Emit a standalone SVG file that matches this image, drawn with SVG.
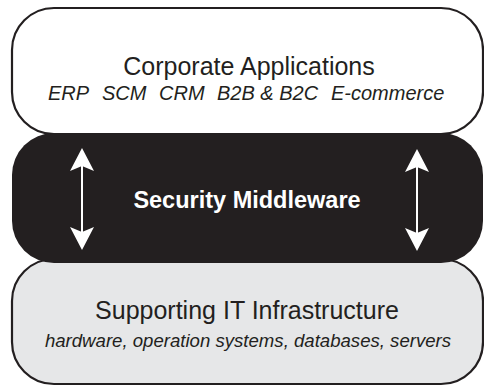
<svg xmlns="http://www.w3.org/2000/svg" width="484" height="390" viewBox="0 0 484 390">
<style>
.box{stroke:#231f20;stroke-width:2.2}
.t{font-family:"Liberation Sans",Arial,sans-serif;fill:#231f20;text-anchor:middle}
.h{font-size:25px}
.s{font-size:18.6px;font-style:italic}
.e{font-size:20px;font-style:italic}
.w{fill:#ffffff;font-weight:bold;font-size:23.5px}
.arr{stroke:#ffffff;stroke-width:2;fill:none}
.head{fill:#ffffff}
</style>
<g id="infrastructure">
<rect class="box" x="12" y="259" width="471" height="125" rx="42" fill="#e6e7e8"/>
<text class="t h" x="247" y="319">Supporting IT Infrastructure</text>
<text class="t s" x="248" y="347">hardware, operation systems, databases, servers</text>
</g>
<g id="applications">
<rect class="box" x="12" y="8" width="471" height="126" rx="42" fill="#ffffff"/>
<text class="t h" x="249" y="75">Corporate Applications</text>
<text class="t e" y="100" style="text-anchor:start"><tspan x="48">ERP</tspan><tspan x="102">SCM</tspan><tspan x="159">CRM</tspan><tspan x="217">B2B &amp; B2C</tspan><tspan x="331">E-commerce</tspan></text>
</g>
<g id="middleware">
<rect x="12" y="133" width="471" height="130" rx="42" fill="#231f20"/>
<text class="t w" x="247" y="208">Security Middleware</text>
</g>
<g id="connectors">
<path d="M82,152 L82,246" class="arr"/>
<path class="head" d="M82,148 L94,171 L82,166 L70,171 Z"/>
<path class="head" d="M82,250 L94,227 L82,232 L70,227 Z"/>
<path d="M417,153 L417,247" class="arr"/>
<path class="head" d="M417,149 L429,172 L417,167 L405,172 Z"/>
<path class="head" d="M417,251 L429,228 L417,233 L405,228 Z"/>
</g>
</svg>
